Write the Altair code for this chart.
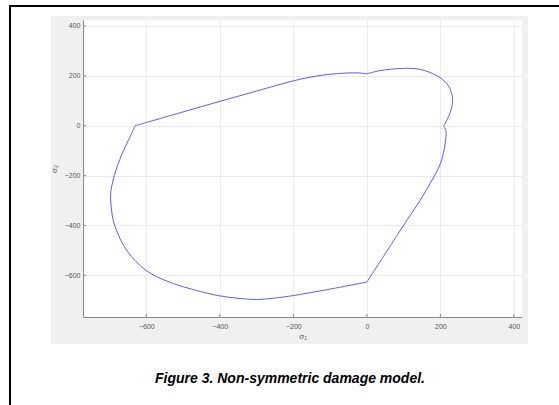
import altair as alt
import pandas as pd

# damage surface, four smooth pieces between its corners (clockwise from the left corner)
upper_s1 = [-630, -508, -399, -300, -250, -200, -160, -120, -80, -40, -15, 0]
upper_s2 = [0, 52, 98, 139, 160, 180, 193, 203, 209, 212, 211, 208]
bulge_s1 = [0, 36, 100, 145, 190, 218, 231, 233, 227, 209]
bulge_s2 = [208, 221, 230, 226, 201, 168, 128, 94, 54, -2]
right_s1 = [209, 215, 213, 200, 172, 145, 109, 50, 0]
right_s2 = [-2, -19, -72, -152, -232, -299, -379, -513, -627]
lower_s1 = [0, -60, -118, -200, -250, -300, -350, -401, -470, -526, -585, -615,
            -640, -662, -678, -690, -695, -697, -696, -692, -687, -678, -665, -649, -630]
lower_s2 = [-627, -644, -660, -681, -691, -697, -692, -682, -658, -633, -595, -563,
            -525, -479, -430, -379, -330, -290, -260, -230, -200, -160, -110, -60, 0]

x_ticks = [-600, -400, -200, 0, 200, 400]
y_ticks = [-600, -400, -200, 0, 200, 400]
caption = "Figure 3. Non-symmetric damage model."

rows = []
for name, s1, s2 in [("upper", upper_s1, upper_s2), ("bulge", bulge_s1, bulge_s2),
                     ("right", right_s1, right_s2), ("lower", lower_s1, lower_s2)]:
    for k, (a, b) in enumerate(zip(s1, s2)):
        rows.append({"seg": name, "i": k, "s1": a, "s2": b})
curve = pd.DataFrame(rows)

W, H = 439, 297
PL, PT = 83, 20
CW, CH = 559, 405

xs = alt.Scale(domain=[-772, 422], nice=False, zero=False)
ys = alt.Scale(domain=[-767, 424], nice=False, zero=False)

axis_common = dict(labelFont="Liberation Sans", labelFontSize=7, labelColor="#555555",
                   titleFont="Liberation Sans", titleFontSize=8, titleColor="#555555",
                   titleFontWeight="normal", gridColor="#ebebeb", gridWidth=1,
                   domainColor="#8a8a8a", domainWidth=1, ticks=False)

line = alt.Chart(curve).mark_line(color="#5c5cff", strokeWidth=1, clip=True,
                                  interpolate="catmull-rom").encode(
    x=alt.X("s1:Q", scale=xs, axis=alt.Axis(values=x_ticks, title="σ₁", labelPadding=5,
                                           titlePadding=3, **axis_common)),
    y=alt.Y("s2:Q", scale=ys, axis=alt.Axis(values=y_ticks, title="σ₂", labelPadding=3,
                                           titlePadding=6, **axis_common)),
    detail="seg:N",
    order="i:Q",
)

xt = alt.Chart(pd.DataFrame({"v": x_ticks})).mark_rule(color="#8a8a8a").encode(
    x=alt.X("v:Q", scale=xs), y=alt.value(H), y2=alt.value(H - 3))
yt = alt.Chart(pd.DataFrame({"v": y_ticks})).mark_rule(color="#8a8a8a").encode(
    y=alt.Y("v:Q", scale=ys), x=alt.value(0), x2=alt.value(3))

dummy = pd.DataFrame({"a": [0]})

def rect(x1, x2, y1, y2, color):
    return alt.Chart(dummy).mark_rect(color=color, clip=False).encode(
        x=alt.value(x1 - PL), x2=alt.value(x2 - PL),
        y=alt.value(y1 - PT), y2=alt.value(y2 - PT))

margins = [
    rect(0, 51, 0, CH, "white"),
    rect(528, CW, 0, CH, "white"),
    rect(0, CW, 0, 16, "white"),
    rect(0, CW, 344, CH, "white"),
    rect(9, 11, 5, CH, "black"),
    rect(9, CW, 5, 7, "black"),
]

cap = alt.Chart(dummy).mark_text(text=caption, font="Liberation Sans", fontSize=14,
                                 fontWeight="bold", fontStyle="italic", color="black",
                                 align="center", baseline="alphabetic").encode(
    x=alt.value(290 - PL), y=alt.value(383 - PT))

chart = alt.layer(*margins, xt, yt, line, cap).properties(
    width=W, height=H,
    padding={"left": PL, "top": PT, "right": CW - PL - W, "bottom": CH - PT - H},
    autosize=alt.AutoSizeParams(type="none"),
    background="#f0f0f0",
).configure_view(fill="white", stroke=None)

chart.save("out.html", embed_options={"renderer": "svg", "actions": False})
